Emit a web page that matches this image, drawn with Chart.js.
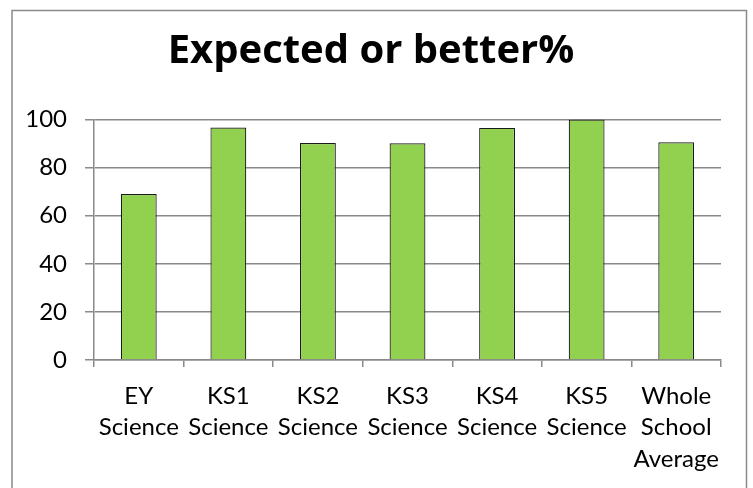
<!DOCTYPE html>
<html>
<head>
<meta charset="utf-8">
<script src="https://cdn.jsdelivr.net/npm/chart.js@4/dist/chart.umd.min.js"></script>
<style>
  html, body { margin: 0; padding: 0; background: #fff; }
  #wrap { width: 753px; height: 488px; position: relative; }
</style>
</head>
<body>
<div id="wrap"><canvas id="c" width="753" height="488"></canvas></div>
<script>
const categories = [
  ["EY", "Science"],
  ["KS1", "Science"],
  ["KS2", "Science"],
  ["KS3", "Science"],
  ["KS4", "Science"],
  ["KS5", "Science"],
  ["Whole", "School", "Average"]
];
const expectedOrBetter = [69, 96.7, 90.2, 90.1, 96.5, 100, 90.5];
const yTicks = { min: 0, max: 100, step: 20 };
const chartTitle = "Expected or better%";

const FONT = "Lato, 'Open Sans', 'Noto Sans', sans-serif";
const TITLE_FONT = "'Open Sans', Lato, sans-serif";

const outerBorder = {
  id: 'outerBorder',
  beforeDraw(chart) {
    const ctx = chart.ctx;
    ctx.save();
    ctx.fillStyle = '#fff';
    ctx.fillRect(0, 0, chart.width, chart.height);
    ctx.strokeStyle = '#8a8a8a';
    ctx.lineWidth = 1.5;
    ctx.strokeRect(12, 10.5, 734.5, 500);
    ctx.restore();
  }
};

new Chart(document.getElementById('c'), {
  type: 'bar',
  data: {
    labels: categories,
    datasets: [{
      label: chartTitle,
      data: expectedOrBetter,
      backgroundColor: '#92D050',
      borderColor: '#1a1a1a',
      borderWidth: 1.2,
      borderSkipped: 'bottom',
      categoryPercentage: 1,
      barPercentage: 0.4
    }]
  },
  options: {
    responsive: false,
    animation: false,
    devicePixelRatio: 1,
    layout: { padding: { left: 21, right: 32, top: 10, bottom: 0 } },
    plugins: {
      legend: { display: false },
      tooltip: { enabled: false },
      title: {
        display: true,
        text: chartTitle,
        color: '#000',
        font: { family: TITLE_FONT, size: 40, weight: 'bold', lineHeight: 1.2 },
        padding: { top: 18, bottom: 43.5 }
      }
    },
    scales: {
      x: {
        grid: {
          display: true,
          drawOnChartArea: false,
          drawTicks: true,
          tickLength: 7,
          color: '#8a8a8a',
          lineWidth: 1.5,
          offset: true
        },
        border: { display: true, color: '#8a8a8a', width: 1.5 },
        ticks: {
          color: '#000',
          font: { family: FONT, size: 24, lineHeight: 1.32 },
          padding: 13,
          maxRotation: 0,
          minRotation: 0,
          autoSkip: false
        },
        afterFit(scale) { scale.height = 128; }
      },
      y: {
        min: yTicks.min,
        max: yTicks.max,
        ticks: {
          stepSize: yTicks.step,
          color: '#000',
          font: { family: FONT, size: 24 },
          padding: 18
        },
        grid: {
          color: '#8a8a8a',
          lineWidth: 1.5,
          tickLength: 9
        },
        border: { display: true, color: '#8a8a8a', width: 1.5 },
        afterFit(scale) { scale.width = 73; }
      }
    }
  },
  plugins: [outerBorder]
});
</script>
</body>
</html>
